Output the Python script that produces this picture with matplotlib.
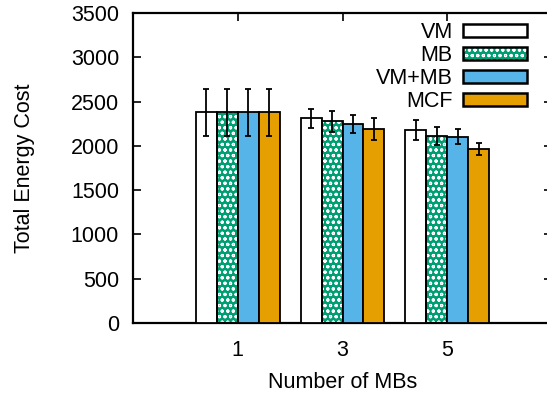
import matplotlib
matplotlib.use('Agg')
import matplotlib.pyplot as plt
from matplotlib.patches import Patch
import numpy as np

plt.rcParams['font.family'] = ['Liberation Sans', 'DejaVu Sans']
plt.rcParams['hatch.linewidth'] = 0.8

# ---- data ----
group_labels = ['1', '3', '5']
group_x = [1, 3, 5]
series = ['VM', 'MB', 'VM+MB', 'MCF']
vm = [2380, 2310, 2180]
mb = [2380, 2275, 2115]
vmmb = [2380, 2245, 2105]
mcf = [2380, 2190, 1965]
vm_err = [265, 110, 110]
mb_err = [265, 120, 100]
vmmb_err = [265, 100, 85]
mcf_err = [265, 120, 70]
y_ticks = [0, 500, 1000, 1500, 2000, 2500, 3000, 3500]

values = [vm, mb, vmmb, mcf]
errors = [vm_err, mb_err, vmmb_err, mcf_err]
colors = ['white', '#009E73', '#56B4E9', '#E69F00']
hatches = [None, 'ooo', None, None]

FS = 15.5
fig = plt.figure(figsize=(5.47, 3.94), dpi=100)
W, H = 547, 394
ax = fig.add_axes([133 / W, 1 - 323 / H, (552 - 133) / W, 310 / H])

width = 0.4
offsets = [-0.6, -0.2, 0.2, 0.6]
x = np.array(group_x, dtype=float)
handles = []
for vals, errs, col, hat, off in zip(values, errors, colors, hatches, offsets):
    if hat:
        ax.bar(x + off, vals, width=width, color=col, hatch=hat,
               edgecolor='white', linewidth=0, zorder=2)
        ax.bar(x + off, vals, width=width, fill=False, edgecolor='black',
               linewidth=1.3, zorder=3)
        h = (Patch(facecolor=col, hatch=hat, edgecolor='white', linewidth=0),
             Patch(fill=False, edgecolor='black', linewidth=1.8))
    else:
        ax.bar(x + off, vals, width=width, color=col, edgecolor='black',
               linewidth=1.3, zorder=3)
        h = Patch(facecolor=col, edgecolor='black', linewidth=1.8)
    ax.errorbar(x + off, vals, yerr=errs, fmt='none', ecolor='black',
                elinewidth=1.3, capsize=2.5, capthick=1.3, zorder=4)
    handles.append(h)

ax.set_xlim(-1, 7)
ax.set_ylim(0, 3500)
ax.set_xticks(group_x)
ax.set_xticklabels(group_labels)
ax.set_yticks(y_ticks)
ax.tick_params(axis='both', direction='in', top=True, right=True,
               length=6, width=1.2, labelsize=FS)
ax.tick_params(axis='x', pad=12)
ax.tick_params(axis='y', pad=10)
for s in ax.spines.values():
    s.set_linewidth(1.6)

ax.set_xlabel('Number of MBs', fontsize=FS, labelpad=8)
ax.set_ylabel('Total Energy Cost', fontsize=FS)
ax.yaxis.set_label_coords((35 - 133) / 419, 0.5)

leg = ax.legend(handles, series, loc='upper right',
                bbox_to_anchor=(527 / W, 1 - 22 / H),
                bbox_transform=fig.transFigure, frameon=False,
                markerfirst=False, fontsize=FS, handlelength=2.95,
                handleheight=0.55, handletextpad=0.5, labelspacing=0.1,
                borderpad=0, borderaxespad=0)

fig.savefig('out.png', dpi=100)
